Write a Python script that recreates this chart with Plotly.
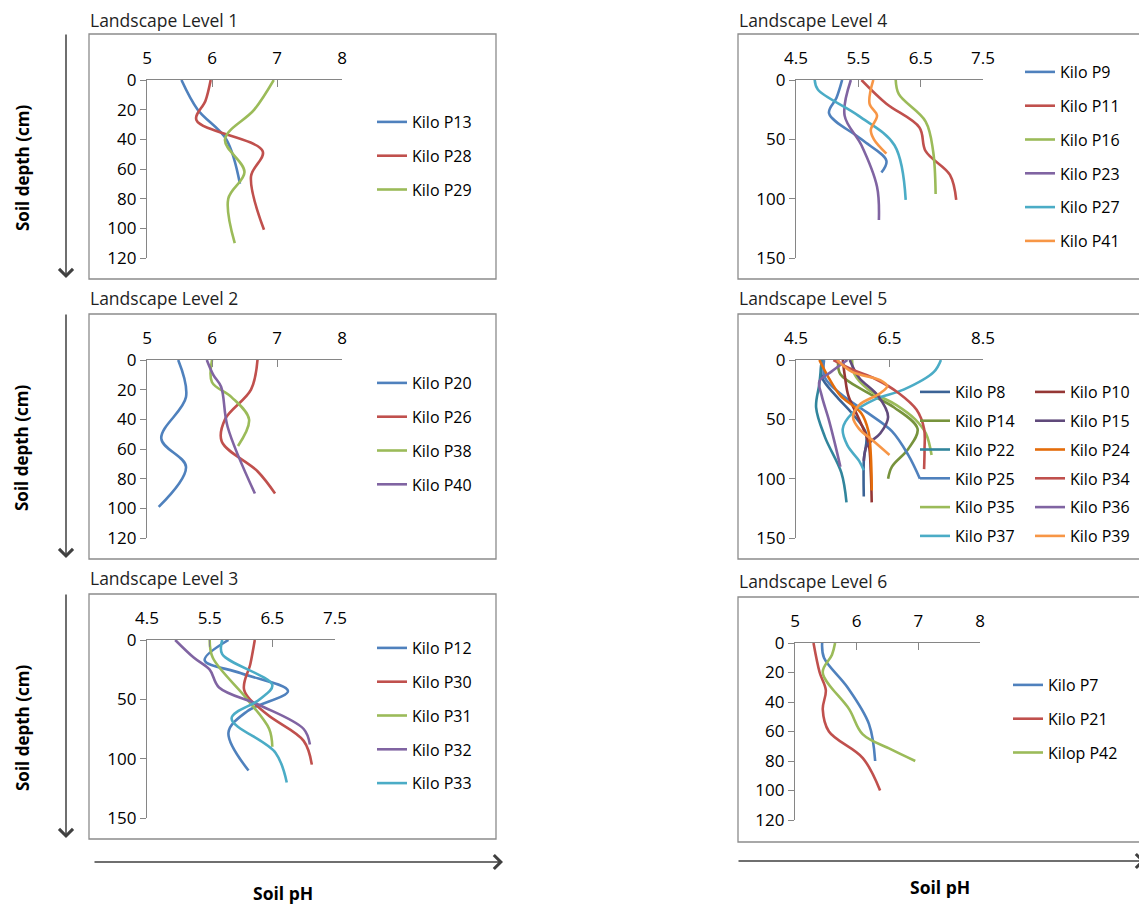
import plotly.graph_objects as go

OFF = 8                     # page body margin of the browser
W, H = 1147 - OFF, 907 - OFF
FONT = "Open Sans"

# ---------------- Landscape Level 1 ----------------
p13_depth = [0, 20, 40, 70]
p13_ph = [5.53, 5.78, 6.22, 6.43]
p28_depth = [0, 14, 27, 48, 65, 101]
p28_ph = [5.98, 5.9, 5.76, 6.78, 6.6, 6.8]
p29_depth = [0, 20, 40, 62, 80, 110]
p29_ph = [6.95, 6.65, 6.2, 6.5, 6.25, 6.35]

# ---------------- Landscape Level 2 ----------------
p20_depth = [0, 25, 53, 72, 99]
p20_ph = [5.48, 5.6, 5.22, 5.6, 5.18]
p26_depth = [0, 20, 40, 55, 75, 90]
p26_ph = [6.7, 6.6, 6.2, 6.15, 6.7, 6.97]
p38_depth = [0, 15, 25, 40, 58]
p38_ph = [6.0, 6.0, 6.3, 6.57, 6.4]
p40_depth = [0, 10, 18, 45, 90]
p40_ph = [5.92, 6.02, 6.14, 6.24, 6.66]

# ---------------- Landscape Level 3 ----------------
p12_depth = [0, 17, 28, 43, 60, 78, 110]
p12_ph = [5.8, 5.42, 6.0, 6.75, 6.1, 5.8, 6.12]
p30_depth = [0, 20, 42, 62, 85, 105]
p30_ph = [6.22, 6.15, 6.05, 6.4, 7.0, 7.13]
p31_depth = [0, 15, 50, 75, 90]
p31_ph = [5.5, 5.55, 6.1, 6.45, 6.5]
p32_depth = [0, 15, 25, 40, 55, 75, 88]
p32_ph = [4.95, 5.25, 5.5, 5.65, 6.3, 7.0, 7.1]
p33_depth = [0, 12, 38, 50, 66, 95, 120]
p33_ph = [5.7, 5.7, 6.5, 6.3, 5.85, 6.55, 6.73]

# ---------------- Landscape Level 4 ----------------
p9_depth = [0, 15, 28, 50, 68, 78]
p9_ph = [5.24, 5.15, 5.03, 5.55, 5.95, 5.87]
p11_depth = [0, 20, 40, 60, 80, 101]
p11_ph = [5.55, 5.95, 6.48, 6.58, 6.97, 7.07]
p16_depth = [0, 12, 35, 60, 96]
p16_ph = [6.1, 6.15, 6.58, 6.7, 6.74]
p23_depth = [0, 30, 55, 90, 118]
p23_ph = [5.38, 5.28, 5.55, 5.8, 5.83]
p27_depth = [0, 8, 30, 55, 101]
p27_ph = [4.8, 4.85, 5.5, 6.08, 6.26]
p41_depth = [0, 20, 30, 42, 50, 62]
p41_ph = [5.74, 5.68, 5.8, 5.7, 5.75, 5.95]

# ---------------- Landscape Level 5 ----------------
p8_depth = [0, 15, 30, 45, 62, 85, 115]
p8_ph = [5.05, 5.06, 5.35, 5.7, 6.0, 5.95, 5.95]
p10_depth = [0, 15, 30, 50, 70, 95, 120]
p10_ph = [5.5, 5.55, 5.62, 5.85, 6.05, 6.1, 6.12]
p14_depth = [0, 12, 28, 40, 58, 75, 90, 100]
p14_ph = [5.4, 5.45, 6.05, 6.6, 7.1, 6.9, 6.55, 6.47]
p15_depth = [0, 15, 30, 48, 62, 72, 85]
p15_ph = [5.65, 5.85, 6.25, 6.47, 6.3, 6.02, 5.95]
p22_depth = [0, 20, 40, 65, 95, 120]
p22_ph = [5.05, 5.0, 4.93, 5.12, 5.47, 5.58]
p24_depth = [0, 15, 30, 45, 60, 80, 110]
p24_ph = [5.0, 5.2, 5.45, 5.9, 6.05, 6.1, 6.12]
p25_depth = [0, 15, 30, 45, 60, 80, 100]
p25_ph = [5.1, 5.12, 5.5, 6.05, 6.55, 6.9, 7.15]
p34_depth = [0, 8, 16, 28, 42, 58, 75, 92]
p34_ph = [5.3, 5.7, 6.2, 6.7, 7.08, 7.24, 7.25, 7.24]
p35_depth = [0, 12, 25, 38, 50, 62, 80]
p35_ph = [5.7, 5.75, 6.05, 6.65, 7.05, 7.28, 7.4]
p36_depth = [0, 10, 18, 30, 50, 70, 90]
p36_ph = [5.6, 5.25, 5.0, 5.05, 5.2, 5.33, 5.45]
p37_depth = [0, 10, 25, 33, 45, 58, 72, 85, 93]
p37_ph = [7.6, 7.45, 6.8, 6.2, 5.7, 5.5, 5.6, 5.85, 5.95]
p39_depth = [0, 10, 17, 22, 28, 38, 48, 58, 68, 80]
p39_ph = [5.38, 5.7, 6.3, 6.45, 6.3, 5.85, 5.72, 5.85, 6.15, 6.5]

# ---------------- Landscape Level 6 ----------------
p7_depth = [0, 10, 30, 55, 80]
p7_ph = [5.44, 5.47, 5.85, 6.2, 6.3]
p21_depth = [0, 20, 32, 45, 60, 78, 100]
p21_ph = [5.3, 5.4, 5.5, 5.45, 5.55, 6.1, 6.38]
p42_depth = [0, 8, 20, 45, 62, 72, 80]
p42_ph = [5.65, 5.6, 5.45, 5.88, 6.1, 6.55, 6.95]

BLUE, RED, GREEN, PURPLE, CYAN, ORANGE = "#4F81BD", "#C0504D", "#9BBB59", "#8064A2", "#4BACC6", "#F79646"
DBLUE, DRED, DGREEN, DPURPLE, DCYAN, DORANGE = "#3B6396", "#953735", "#77933C", "#604A7B", "#31859C", "#E46C0A"

panel_titles = ["Landscape Level 1", "Landscape Level 2", "Landscape Level 3",
                "Landscape Level 4", "Landscape Level 5", "Landscape Level 6"]

series = [
    (1, "Kilo P13", p13_depth, p13_ph, BLUE, "legend"),
    (1, "Kilo P28", p28_depth, p28_ph, RED, "legend"),
    (1, "Kilo P29", p29_depth, p29_ph, GREEN, "legend"),
    (2, "Kilo P20", p20_depth, p20_ph, BLUE, "legend2"),
    (2, "Kilo P26", p26_depth, p26_ph, RED, "legend2"),
    (2, "Kilo P38", p38_depth, p38_ph, GREEN, "legend2"),
    (2, "Kilo P40", p40_depth, p40_ph, PURPLE, "legend2"),
    (3, "Kilo P12", p12_depth, p12_ph, BLUE, "legend3"),
    (3, "Kilo P30", p30_depth, p30_ph, RED, "legend3"),
    (3, "Kilo P31", p31_depth, p31_ph, GREEN, "legend3"),
    (3, "Kilo P32", p32_depth, p32_ph, PURPLE, "legend3"),
    (3, "Kilo P33", p33_depth, p33_ph, CYAN, "legend3"),
    (4, "Kilo P9", p9_depth, p9_ph, BLUE, "legend4"),
    (4, "Kilo P11", p11_depth, p11_ph, RED, "legend4"),
    (4, "Kilo P16", p16_depth, p16_ph, GREEN, "legend4"),
    (4, "Kilo P23", p23_depth, p23_ph, PURPLE, "legend4"),
    (4, "Kilo P27", p27_depth, p27_ph, CYAN, "legend4"),
    (4, "Kilo P41", p41_depth, p41_ph, ORANGE, "legend4"),
    (5, "Kilo P8", p8_depth, p8_ph, DBLUE, "legend5"),
    (5, "Kilo P14", p14_depth, p14_ph, DGREEN, "legend5"),
    (5, "Kilo P22", p22_depth, p22_ph, DCYAN, "legend5"),
    (5, "Kilo P25", p25_depth, p25_ph, BLUE, "legend5"),
    (5, "Kilo P35", p35_depth, p35_ph, GREEN, "legend5"),
    (5, "Kilo P37", p37_depth, p37_ph, CYAN, "legend5"),
    (5, "Kilo P10", p10_depth, p10_ph, DRED, "legend6"),
    (5, "Kilo P15", p15_depth, p15_ph, DPURPLE, "legend6"),
    (5, "Kilo P24", p24_depth, p24_ph, DORANGE, "legend6"),
    (5, "Kilo P34", p34_depth, p34_ph, RED, "legend6"),
    (5, "Kilo P36", p36_depth, p36_ph, PURPLE, "legend6"),
    (5, "Kilo P39", p39_depth, p39_ph, ORANGE, "legend6"),
    (6, "Kilo P7", p7_depth, p7_ph, BLUE, "legend7"),
    (6, "Kilo P21", p21_depth, p21_ph, RED, "legend7"),
    (6, "Kilop P42", p42_depth, p42_ph, GREEN, "legend7"),
]


def px(x):
    return (x - OFF) / W


def py(y):
    return 1 - (y - OFF) / H


panels = {
    1: dict(box=(147, 342, 80, 258), xr=[5, 8], xt0=5, xdt=1, ymax=120, ydt=20),
    2: dict(box=(147, 342, 360, 538), xr=[5, 8], xt0=5, xdt=1, ymax=120, ydt=20),
    3: dict(box=(147, 335, 640, 818), xr=[4.5, 7.5], xt0=4.5, xdt=1, ymax=150, ydt=50),
    4: dict(box=(796, 983, 80, 258), xr=[4.5, 7.5], xt0=4.5, xdt=1, ymax=150, ydt=50),
    5: dict(box=(796, 983, 360, 538), xr=[4.5, 8.5], xt0=4.5, xdt=2, ymax=150, ydt=50),
    6: dict(box=(795, 980, 643, 820), xr=[5, 8], xt0=5, xdt=1, ymax=120, ydt=20),
}

fig = go.Figure()
for i, (pn, name, d, ph, col, leg) in enumerate(series):
    sfx = "" if pn == 1 else str(pn)
    fig.add_trace(go.Scatter(
        x=ph, y=d, mode="lines", name=name,
        line=dict(color=col, width=2.6, shape="spline", smoothing=1.0),
        xaxis="x" + sfx, yaxis="y" + sfx, legend=leg, legendgroup="g%d" % i,
        hoverinfo="skip",
    ))

TICKFONT = dict(family=FONT, size=17, color="#000")
layout = dict(
    width=W, height=H, margin=dict(l=0, r=0, t=0, b=0, autoexpand=False),
    paper_bgcolor="white", plot_bgcolor="rgba(0,0,0,0)",
    font=dict(family=FONT, size=16, color="#000000"),
    showlegend=True,
)
AX = "#868686"
for pn, p in panels.items():
    sfx = "" if pn == 1 else str(pn)
    x0, x1, yt, yb = p["box"]
    layout["xaxis" + sfx] = dict(
        domain=[px(x0), px(x1)], anchor="y" + sfx, side="top", range=p["xr"],
        tick0=p["xt0"], dtick=p["xdt"], ticks="inside", ticklen=7, tickcolor=AX,
        showline=True, linecolor=AX, linewidth=1.3, showgrid=False, zeroline=False,
        tickfont=TICKFONT, ticklabelstandoff=8, automargin=False, fixedrange=True,
    )
    layout["yaxis" + sfx] = dict(
        domain=[py(yb), py(yt)], anchor="x" + sfx, range=[p["ymax"], 0],
        tick0=0, dtick=p["ydt"], ticks="outside", ticklen=6, tickcolor=AX,
        showline=True, linecolor=AX, linewidth=1.3, showgrid=False, zeroline=False,
        tickfont=TICKFONT, automargin=False, fixedrange=True,
    )

legend_pos = [
    ("legend", 377, 122, 10),
    ("legend2", 377, 383, 10),
    ("legend3", 377, 648, 10),
    ("legend4", 1025, 72, 10),
    ("legend5", 920, 392, 5),
    ("legend6", 1035, 392, 5),
    ("legend7", 1013, 685, 10),
]
for key, lx, cy, gap in legend_pos:
    layout[key] = dict(
        x=px(lx - 5), y=py(cy - 17), xanchor="left", yanchor="top",
        bgcolor="rgba(0,0,0,0)", borderwidth=0, tracegroupgap=gap,
        font=dict(family=FONT, size=16, color="#000"), traceorder="grouped",
        itemwidth=30,
    )

fig.update_layout(**layout)

frames = [(89, 34, 496, 279), (89, 314, 496, 559), (89, 594, 496, 839),
          (738, 34, 1145, 279), (738, 314, 1145, 559), (738, 597, 1145, 842)]
for (a, b, c, d) in frames:
    fig.add_shape(type="rect", xref="paper", yref="paper",
                  x0=px(a), x1=px(c), y0=py(d), y1=py(b),
                  line=dict(color="#8C8C8C", width=1.3), layer="below")

title_pos = [(88, 20), (88, 298), (88, 578), (737, 20), (737, 298), (737, 581)]
for t, (tx, ty) in zip(panel_titles, title_pos):
    fig.add_annotation(text=t, x=px(tx), y=py(ty), xref="paper", yref="paper",
                       xanchor="left", yanchor="middle", showarrow=False,
                       font=dict(family=FONT, size=17.5, color="#1F1F1F"))

for k in range(3):
    top = 33 + 280 * k
    bot = 278 + 280 * k
    fig.add_annotation(x=px(66), y=py(bot), xref="paper", yref="paper", ax=0, ay=-(bot - top),
                       text="", showarrow=True, arrowhead=4, arrowsize=1.8, arrowwidth=1.5,
                       arrowcolor="#404040")
    fig.add_annotation(text="<b>Soil depth (cm)</b>", x=px(22), y=py(168 + 280 * k),
                       xref="paper", yref="paper", xanchor="center", yanchor="middle",
                       textangle=-90, showarrow=False,
                       font=dict(family=FONT, size=17, color="#000"))

for (xa, xb, yy, lx, ly) in [(93, 503, 862, 283, 893), (737, 1145, 861, 940, 887)]:
    fig.add_annotation(x=px(xb), y=py(yy), xref="paper", yref="paper", ax=-(xb - xa), ay=0,
                       text="", showarrow=True, arrowhead=4, arrowsize=1.8, arrowwidth=1.5,
                       arrowcolor="#404040")
    fig.add_annotation(text="<b>Soil pH</b>", x=px(lx), y=py(ly), xref="paper", yref="paper",
                       xanchor="center", yanchor="middle", showarrow=False,
                       font=dict(family=FONT, size=17.5, color="#000"))

fig.write_html("out.html")
